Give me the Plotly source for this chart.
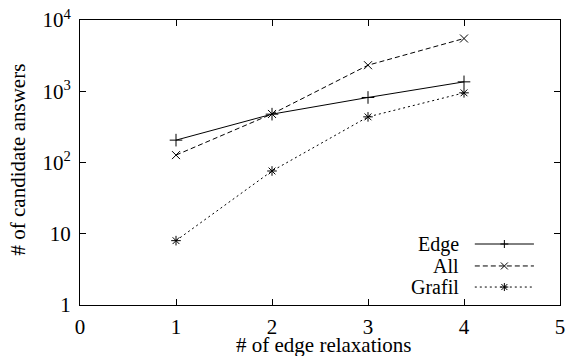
import plotly.graph_objects as go

relaxations = [1, 2, 3, 4]
edge = [206, 477, 818, 1355]
all_vals = [127, 480, 2320, 5500]
grafil = [8, 76, 437, 950]
series_names = ["Edge", "All", "Grafil"]

y_tickvals = [1, 10, 100, 1000, 10000]
y_ticktext = ["1", "10", "10<sup>2</sup>", "10<sup>3</sup>", "10<sup>4</sup>"]
x_tickvals = [0, 1, 2, 3, 4, 5]
x_title = "# of edge relaxations"
y_title = "# of candidate answers"

FONT = "Liberation Serif, Times New Roman, serif"
FS = 21
LEG_FS = 20

dashes = ["solid", "5px,3px", "2px,3px"]
symbols = ["cross-thin-open", "x-thin-open", "asterisk-open"]
sizes = [9, 8, 8]
series = [edge, all_vals, grafil]

fig = go.Figure()
for name, vals, dsh, sym, sz in zip(series_names, series, dashes, symbols, sizes):
    fig.add_trace(go.Scatter(x=relaxations, y=vals, name=name, mode="lines+markers",
                             showlegend=False,
                             line=dict(color="black", width=1, dash=dsh),
                             marker=dict(symbol=sym, size=sz, color="black",
                                         line=dict(width=1, color="black"))))

axis_common = dict(showline=True, linecolor="black", linewidth=1, mirror="ticks",
                   ticks="inside", ticklen=6, tickcolor="black", tickwidth=1,
                   showgrid=False, zeroline=False, ticklabeloverflow="allow",
                   tickfont=dict(family=FONT, size=FS, color="black"))

fig.update_xaxes(range=[0, 5], tickvals=x_tickvals, ticklabelstandoff=3, **axis_common)
fig.update_yaxes(type="log", range=[0, 4], tickvals=y_tickvals, ticktext=y_ticktext,
                 ticklabelstandoff=4, **axis_common)

annotations = [
    dict(text=x_title, xref="paper", yref="paper", x=0.5, y=0, xshift=4, yshift=-40,
         xanchor="center", yanchor="middle", showarrow=False,
         font=dict(family=FONT, size=FS, color="black")),
    dict(text=y_title, xref="paper", yref="paper", x=0, y=0.5, xshift=-63, yshift=3,
         xanchor="center", yanchor="middle", textangle=-90, showarrow=False,
         font=dict(family=FONT, size=FS, color="black")),
]

# gnuplot-style key: text right-aligned, sample line to the right
leg_rows = [0.214, 0.137, 0.063]
leg_text_x = 0.793
leg_line_x0, leg_line_x1 = 0.8225, 0.9457
leg_mid = (leg_line_x0 + leg_line_x1) / 2
marker_paths = {
    "cross-thin-open": "M-4,0H4M0,-4V4",
    "x-thin-open": "M-3.5,-3.5L3.5,3.5M-3.5,3.5L3.5,-3.5",
    "asterisk-open": "M-4,0H4M0,-4V4M-3,-3L3,3M-3,3L3,-3",
}
shapes = []
for name, yy, dsh, sym in zip(series_names, leg_rows, dashes, symbols):
    annotations.append(dict(text=name, xref="paper", yref="paper", x=leg_text_x, y=yy,
                            xanchor="right", yanchor="middle", showarrow=False,
                            font=dict(family=FONT, size=LEG_FS, color="black")))
    shapes.append(dict(type="line", xref="paper", yref="paper",
                       x0=leg_line_x0, x1=leg_line_x1, y0=yy, y1=yy,
                       line=dict(color="black", width=1, dash=dsh)))
    shapes.append(dict(type="path", xref="paper", yref="paper",
                       xsizemode="pixel", ysizemode="pixel",
                       xanchor=leg_mid, yanchor=yy, path=marker_paths[sym],
                       line=dict(color="black", width=1)))

fig.update_layout(
    width=566, height=356,
    margin=dict(l=80, r=1, t=20, b=51),
    paper_bgcolor="white", plot_bgcolor="white",
    font=dict(family=FONT, size=FS, color="black"),
    showlegend=False,
    shapes=shapes,
    annotations=annotations,
)

fig.write_html("out.html", config={"displayModeBar": False},
               post_script="document.body.style.margin='0';document.body.style.overflow='hidden';")
